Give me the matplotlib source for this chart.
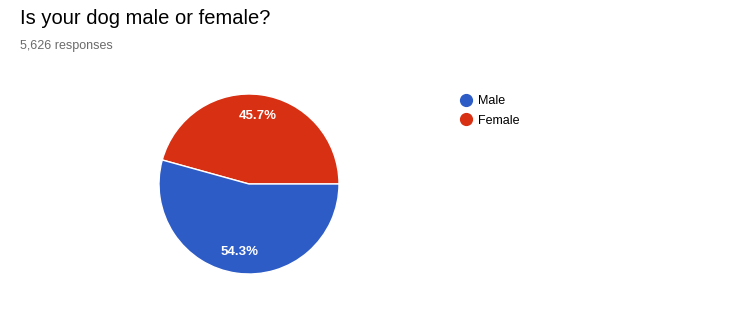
import matplotlib
matplotlib.use("Agg")
import matplotlib.pyplot as plt
from matplotlib.lines import Line2D

categories = ["Male", "Female"]
values = [54.3, 45.7]
colors = ["#2E5CC6", "#D73013"]
title = "Is your dog male or female?"
subtitle = "5,626 responses"

plt.rcParams['font.family'] = ['Liberation Sans', 'DejaVu Sans']

W, H = 732, 312
fig = plt.figure(figsize=(W / 100, H / 100), dpi=100)
fig.patch.set_facecolor("white")

cx, cy, r = 249, 184, 90
ax = fig.add_axes([(cx - r) / W, (H - cy - r) / H, 2 * r / W, 2 * r / H])

# Draw Female first from 0 deg counterclockwise, then Male
order = [1, 0]
wedges, texts, autotexts = ax.pie(
    [values[i] for i in order],
    colors=[colors[i] for i in order],
    startangle=0,
    counterclock=True,
    autopct=lambda p: f"{p:.1f}%",
    pctdistance=0.76,
    radius=1.0,
    wedgeprops=dict(edgecolor="white", linewidth=1.0),
    textprops=dict(color="white", fontsize=9.5, fontweight="bold"),
)
ax.set_xlim(-1, 1)
ax.set_ylim(-1, 1)
ax.set_aspect("equal")
ax.axis("off")

fig.text(20 / W, 1 - 18 / H, title, fontsize=14.5, color="#000000", va="center", ha="left")
fig.text(20 / W, 1 - 46 / H, subtitle, fontsize=9, color="#6b6b6b", va="center", ha="left")

handles = [Line2D([0], [0], marker="o", linestyle="none", markersize=8.5,
                  markerfacecolor=colors[i], markeredgecolor=colors[i]) for i in range(len(categories))]
leg = fig.legend(handles, categories, loc="upper left",
                 bbox_to_anchor=(461 / W, 1 - 95 / H), frameon=False,
                 fontsize=9, handlelength=0.8, handletextpad=0.55,
                 labelspacing=0.6, borderpad=0, borderaxespad=0)

fig.savefig("out.png", dpi=100, facecolor="white")
